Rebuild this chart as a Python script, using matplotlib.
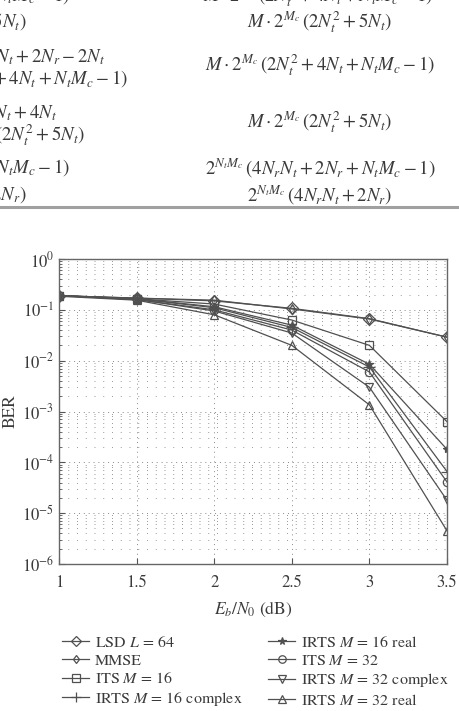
import matplotlib
matplotlib.use("Agg")
import matplotlib.pyplot as plt
import numpy as np

plt.rcParams['font.family'] = ['STIXGeneral', 'DejaVu Serif']
plt.rcParams['mathtext.fontset'] = 'stix'

snr = [1.0, 1.5, 2.0, 2.5, 3.0, 3.5]
labels = [r"LSD $L$ = 64", "MMSE", r"ITS $M$ = 16", r"IRTS $M$ = 16 complex",
          r"IRTS $M$ = 16 real", r"ITS $M$ = 32", r"IRTS $M$ = 32 complex", r"IRTS $M$ = 32 real"]
ber_lsd = [0.19, 0.17, 0.150, 0.107, 0.067, 0.029]
ber_mmse = [0.19, 0.17, 0.155, 0.104, 0.066, 0.029]
ber_its16 = [0.19, 0.165, 0.130, 0.063, 0.020, 6.3e-4]
ber_irts16c = [0.19, 0.165, 0.110, 0.045, 7.5e-3, 6.6e-5]
ber_irts16r = [0.19, 0.165, 0.115, 0.050, 8.5e-3, 1.8e-4]
ber_its32 = [0.19, 0.160, 0.100, 0.040, 6.0e-3, 4.1e-5]
ber_irts32c = [0.19, 0.160, 0.095, 0.035, 3.0e-3, 1.8e-5]
ber_irts32r = [0.185, 0.155, 0.080, 0.020, 1.35e-3, 4.5e-6]
series = [ber_lsd, ber_mmse, ber_its16, ber_irts16c, ber_irts16r, ber_its32, ber_irts32c, ber_irts32r]
markers = ['D', 'd', 's', '+', '*', 'o', 'v', '^']
msizes = [6, 5, 6, 8, 6, 6, 6, 6]

W, H = 459, 711
fig = plt.figure(figsize=(W / 100, H / 100), dpi=100)
tc = '#3a3a3a'

def ft(x, y, s, ha='left', size=13.5):
    fig.text(x / W, 1 - y / H, s, ha=ha, va='center', fontsize=size, color=tc)

# table fragment
ft(433, -4, r"$M\cdot 2^{M_c}\,(2N_t^2+4N_t+N_tM_c-1)$", ha='right')
ft(70, -4, r"$N_tM_c-1)$", ha='right')
ft(27, 22, r"$(2N_t^2+5N_t)$", ha='right')
ft(320, 22, r"$M\cdot 2^{M_c}\,(2N_t^2+5N_t)$", ha='center')
ft(105, 57, r"$4N_rN_t+2N_r-2N_t$", ha='right')
ft(128, 79, r"$(2N_t^2+4N_t+N_tM_c-1)$", ha='right')
ft(320, 65, r"$M\cdot 2^{M_c}\,(2N_t^2+4N_t+N_tM_c-1)$", ha='center')
ft(57, 113, r"$4N_rN_t+4N_t$", ha='right')
ft(85, 135, r"$M\cdot 2^{M_c}\,(2N_t^2+5N_t)$", ha='right')
ft(320, 122, r"$M\cdot 2^{M_c}\,(2N_t^2+5N_t)$", ha='center')
ft(70, 168, r"$(4N_rN_t+2N_r+N_tM_c-1)$", ha='right')
ft(27, 195, r"$(4N_rN_t+2N_r)$", ha='right')
ft(320, 168, r"$2^{N_tM_c}\,(4N_rN_t+2N_r+N_tM_c-1)$", ha='center')
ft(320, 195, r"$2^{N_tM_c}\,(4N_rN_t+2N_r)$", ha='center')
fig.add_artist(plt.Line2D([0, 1], [1 - 207 / H, 1 - 207 / H], color='#a0a0a0', lw=2.2))

ax = fig.add_axes([59 / W, 1 - 564 / H, (447 - 59) / W, (564 - 259) / H])
lc = '#505050'
for y, lab, m, ms in zip(series, labels, markers, msizes):
    fc = lc if m == '*' else 'none'
    ax.plot(snr, y, color=lc, lw=0.9, marker=m, markersize=ms,
            markerfacecolor=fc, markeredgecolor=lc, markeredgewidth=0.9, label=lab)

ax.set_yscale('log')
ax.set_xlim(1, 3.5)
ax.set_ylim(1e-6, 1)
ax.set_xticks([1, 1.5, 2, 2.5, 3, 3.5])
ax.set_xticklabels(['1', '1.5', '2', '2.5', '3', '3.5'])
ax.set_yticks([10.0 ** k for k in range(-6, 1)])
ax.set_yticklabels([r"$10^{%d}$" % k if k < 0 else r"$10^{0}$" for k in range(-6, 1)])
ax.yaxis.set_minor_locator(matplotlib.ticker.LogLocator(base=10, subs=np.arange(2, 10), numticks=20))
ax.yaxis.set_minor_formatter(matplotlib.ticker.NullFormatter())
ax.grid(True, which='major', axis='both', color='#888888', lw=0.7, linestyle=(0, (1, 4)))
ax.grid(True, which='minor', axis='y', color='#999999', lw=0.7, linestyle=(0, (1, 8)))
ax.tick_params(axis='both', which='both', direction='in', colors='#555555', labelcolor=tc, labelsize=12)
ax.tick_params(which='major', length=4)
ax.tick_params(which='minor', length=2)
ax.tick_params(axis='x', pad=8)
for s in ax.spines.values():
    s.set_color('#666666')
    s.set_linewidth(1.0)
ax.set_xlabel(r"$E_b/N_0$ (dB)", fontsize=12.5, color=tc, labelpad=6)
ax.set_ylabel("BER", fontsize=12.5, color=tc, labelpad=2)

h, l = ax.get_legend_handles_labels()
leg = fig.legend(h, l, ncol=2, loc='upper left', bbox_to_anchor=(54 / W, 1 - 627 / H),
                 frameon=False, fontsize=11.5, handlelength=1.7, handletextpad=0.35,
                 columnspacing=1.6, labelspacing=0.22, borderpad=0, labelcolor=tc,
                 markerscale=0.9)

fig.savefig('out.png', dpi=100)
